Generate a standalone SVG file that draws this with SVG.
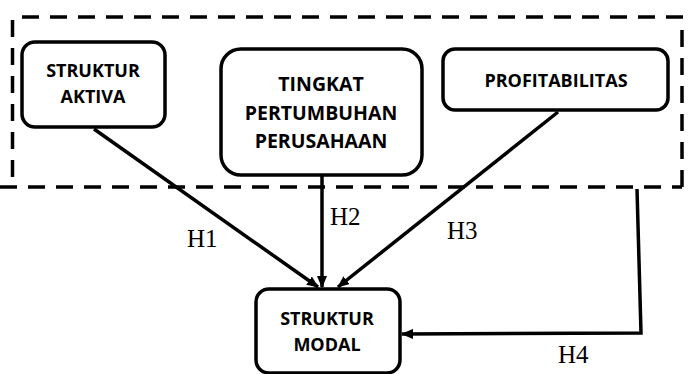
<svg xmlns="http://www.w3.org/2000/svg" width="688" height="374" viewBox="0 0 688 374">
<style>
.box{fill:#fff;stroke:#000;stroke-width:3.5}
.lbl{font-family:"Open Sans","Liberation Sans",sans-serif;font-weight:bold;font-size:18px;fill:#000;text-anchor:middle}
.h{font-family:"Liberation Serif","Times New Roman",serif;font-size:25px;fill:#000}
.con{stroke:#000;stroke-width:3.5;fill:none}
.dash{stroke:#000;stroke-width:3.5;fill:none;stroke-dasharray:17 11}
</style>
<defs>
<marker id="ah" markerWidth="12" markerHeight="10" refX="11" refY="5" orient="auto" markerUnits="userSpaceOnUse">
<path d="M0,0 L12,5 L0,10 Z" fill="#000"/>
</marker>
</defs>
<g id="group-border">
<line class="dash" x1="22" y1="17" x2="684" y2="17"/>
<line class="dash" x1="12.5" y1="20" x2="12.5" y2="188"/>
<line class="dash" x1="0" y1="187" x2="682" y2="187"/>
<line class="dash" x1="682" y1="30" x2="682" y2="188"/>
</g>
<g id="connectors">
<line class="con" x1="94" y1="129" x2="318" y2="287" marker-end="url(#ah)"/>
<line class="con" x1="322" y1="175" x2="322" y2="287" marker-end="url(#ah)"/>
<line class="con" x1="558" y1="112" x2="338" y2="287" marker-end="url(#ah)"/>
<polyline class="con" points="637,189 641,333 402,334" marker-end="url(#ah)"/>
</g>
<g id="n1"><rect class="box" x="22" y="42" width="143" height="85" rx="13"/>
<text class="lbl" x="93" y="77">STRUKTUR</text><text class="lbl" x="93" y="103">AKTIVA</text></g>
<g id="n2"><rect class="box" x="221" y="49" width="201" height="126" rx="20"/>
<text class="lbl" x="321" y="91" style="font-size:19.5px">TINGKAT</text><text class="lbl" x="321" y="120" style="font-size:19.5px">PERTUMBUHAN</text><text class="lbl" x="321" y="148" style="font-size:19.5px">PERUSAHAAN</text></g>
<g id="n3"><rect class="box" x="443" y="49" width="225" height="61" rx="12"/>
<text class="lbl" x="556" y="87">PROFITABILITAS</text></g>
<g id="n4"><rect class="box" x="256" y="289" width="144" height="84" rx="13"/>
<text class="lbl" x="327" y="325">STRUKTUR</text><text class="lbl" x="327" y="351">MODAL</text></g>
<g id="labels">
<text class="h" x="187" y="247">H1</text>
<text class="h" x="330" y="225">H2</text>
<text class="h" x="447" y="239">H3</text>
<text class="h" x="558" y="363">H4</text>
</g>
</svg>
